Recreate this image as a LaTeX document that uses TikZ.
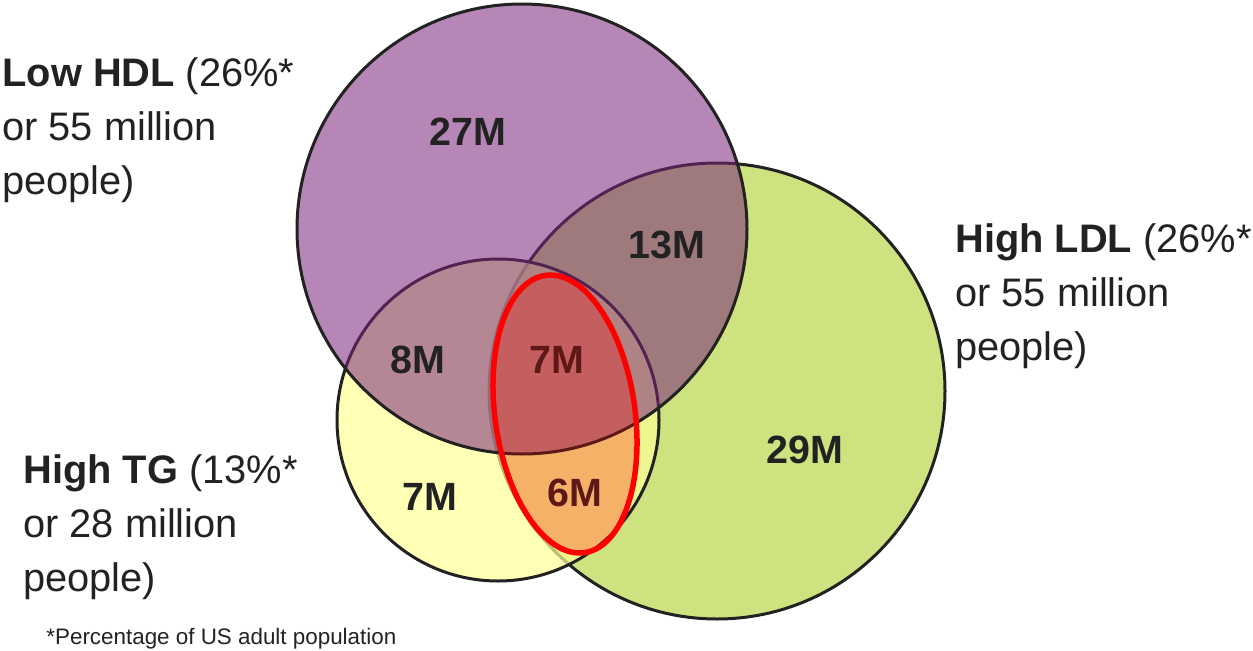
\documentclass[tikz,border=0pt]{standalone}
\usepackage{fontspec}
\setmainfont{Liberation Sans}
\definecolor{ink}{HTML}{222222}
\definecolor{hdlpurple}{RGB}{122,37,122}
\definecolor{ldlgreen}{RGB}{206,226,128}
\definecolor{tgyellow}{RGB}{255,255,150}
\begin{document}
\begin{tikzpicture}[x=0.5pt,y=0.5pt,
  ring/.style={draw=ink, line width=1.5pt},
  lbl/.style={font=\fontsize{19.9}{27}\selectfont, text=ink, inner sep=0pt, anchor=base west},
  num/.style={font=\fontsize{19.7}{23}\selectfont\bfseries, text=ink, inner sep=0pt},
  foot/.style={font=\fontsize{11.2}{14}\selectfont, text=ink, inner sep=0pt, anchor=base west}]
\useasboundingbox (0,0) rectangle (1253,650);
% circles
\fill[ldlgreen] (717,259) circle [radius=228];
\draw[ring] (717,259) circle [radius=228];
\fill[tgyellow, fill opacity=0.7] (498,230) circle [radius=161];
\draw[ring] (498,230) circle [radius=161];
\fill[hdlpurple, fill opacity=0.55] (522,421) circle [radius=225];
\draw[ring] (522,421) circle [radius=225];
% region numbers
\node[num] (n27) at (468,518) {27M};
\node[num] (n13) at (667,405) {13M};
\node[num] (n8)  at (418,290) {8M};
\node[num] (n7a) at (557,290) {7M};
\node[num] (n29) at (805,200) {29M};
\node[num] (n7b) at (430,153) {7M};
\node[num] (n6)  at (575,157) {6M};
% highlighted ellipse
\begin{scope}[rotate around={8:(565,236)}]
  \fill[red, fill opacity=0.28] (565,236) ellipse [x radius=70, y radius=140];
  \draw[red, line width=2.75pt] (565,236) ellipse [x radius=70, y radius=140];
\end{scope}
% side labels
\node[lbl] (hdl1) at (2,564) {\textbf{Low HDL} (26\%*};
\node[lbl] (hdl2) at (2,510) {or 55 million};
\node[lbl] (hdl3) at (2,456) {people)};
\node[lbl] (ldl1) at (955,398) {\textbf{High LDL} (26\%*};
\node[lbl] (ldl2) at (955,344) {or 55 million};
\node[lbl] (ldl3) at (955,290) {people)};
\node[lbl] (tg1) at (23,167) {\textbf{High TG} (13\%*};
\node[lbl] (tg2) at (23,113) {or 28 million};
\node[lbl] (tg3) at (23,59) {people)};
\node[foot] (fn) at (46,6) {*Percentage of US adult population};
\end{tikzpicture}
\end{document}
